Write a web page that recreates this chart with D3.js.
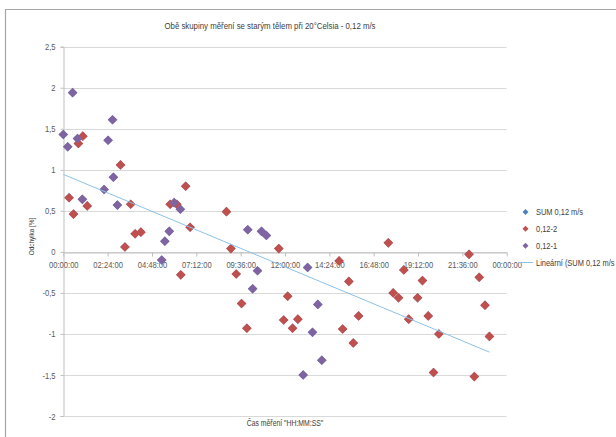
<!DOCTYPE html>
<html>
<head>
<meta charset="utf-8">
<script src="https://cdn.jsdelivr.net/npm/d3@7"></script>
<style>
  html, body { margin: 0; padding: 0; background: #ffffff; }
  svg { display: block; }
  text { font-family: "Liberation Sans", Arial, sans-serif; }
</style>
</head>
<body>
<div id="chart"></div>
<script>
// ---- data (x = time of day as fraction of 24 h, y = deviation in %) ----
const chartTitle = "Obě skupiny měření se starým tělem při 20°Celsia - 0,12 m/s";
const xTitle = "Čas měření \"HH:MM:SS\"";
const yTitle = "Odchylka [%]";
const seriesNames = ["SUM 0,12 m/s", "0,12-2", "0,12-1", "Lineární (SUM 0,12 m/s"];

const xTickValues = [0, 0.1, 0.2, 0.3, 0.4, 0.5, 0.6, 0.7, 0.8, 0.9, 1.0];
const xTickLabels = ["00:00:00", "02:24:00", "04:48:00", "07:12:00", "09:36:00", "12:00:00",
                     "14:24:00", "16:48:00", "19:12:00", "21:36:00", "00:00:00"];
const yTickValues = [-2, -1.5, -1, -0.5, 0, 0.5, 1, 1.5, 2, 2.5];
const yTickLabels = ["-2", "-1,5", "-1", "-0,5", "0", "0,5", "1", "1,5", "2", "2,5"];

// series 0,12-1 (purple)
const s1Time = [0.000, 0.010, 0.021, 0.032, 0.043, 0.092, 0.101, 0.111, 0.113, 0.122,
                0.222, 0.229, 0.239, 0.250, 0.264, 0.416, 0.427, 0.438, 0.447, 0.458,
                0.541, 0.551, 0.562, 0.574, 0.583];
const s1Value = [1.43, 1.28, 1.94, 1.38, 0.64, 0.76, 1.36, 1.61, 0.91, 0.57,
                 -0.10, 0.13, 0.25, 0.60, 0.52, 0.27, -0.45, -0.23, 0.25, 0.20,
                 -1.50, -0.19, -0.98, -0.64, -1.32];

// series 0,12-2 (red)
const s2Time = [0.013, 0.023, 0.034, 0.044, 0.054, 0.129, 0.139, 0.152, 0.162, 0.175,
                0.241, 0.256, 0.265, 0.276, 0.286, 0.368, 0.378, 0.390, 0.402, 0.414,
                0.486, 0.497, 0.506, 0.517, 0.529, 0.622, 0.630, 0.644, 0.654, 0.666,
                0.733, 0.744, 0.756, 0.768, 0.779, 0.799, 0.810, 0.823, 0.835, 0.847,
                0.915, 0.927, 0.938, 0.951, 0.961];
const s2Value = [0.66, 0.46, 1.32, 1.41, 0.56, 1.06, 0.06, 0.58, 0.22, 0.24,
                 0.58, 0.58, -0.28, 0.80, 0.30, 0.49, 0.04, -0.27, -0.63, -0.93,
                 0.04, -0.83, -0.54, -0.93, -0.82, -0.11, -0.94, -0.36, -1.11, -0.78,
                 0.11, -0.50, -0.56, -0.22, -0.82, -0.56, -0.35, -0.78, -1.47, -1.00,
                 -0.03, -1.52, -0.31, -0.65, -1.03];

const colors = { sum: "#4F81BD", s2: "#C0504D", s1: "#8064A2", trend: "#8CC2E6" };

// ---- layout ----
const W = 616, H = 437;
const plot = { left: 63.3, right: 506.7, top: 46.7, bottom: 416 };
const NARROW = 0.8; // horizontal compression to mimic a narrow (Calibri-like) face

const svg = d3.select("#chart").append("svg").attr("width", W).attr("height", H);

// helper: add a horizontally-compressed text
function label(parent, xx, yy, str, size, anchor, rotate) {
  return parent.append("text")
    .attr("transform", `translate(${xx},${yy})${rotate ? " rotate(" + rotate + ")" : ""} scale(${NARROW},1)`)
    .attr("text-anchor", anchor).attr("fill", "#404040")
    .style("font-size", size + "px").text(str);
}

// outer chart frame (top and left edges visible)
svg.append("path")
  .attr("d", `M5.5,${H} L5.5,9.5 L${W},9.5`)
  .attr("fill", "none").attr("stroke", "#a6a6a6").attr("stroke-width", 1.2);

const x = d3.scaleLinear().domain([0, 1]).range([plot.left, plot.right]);
const y = d3.scaleLinear().domain([-2, 2.5]).range([plot.bottom, plot.top]);

// horizontal gridlines
svg.append("g").selectAll("line").data(yTickValues).join("line")
  .attr("x1", plot.left).attr("x2", plot.right)
  .attr("y1", d => Math.round(y(d)) + 0.5).attr("y2", d => Math.round(y(d)) + 0.5)
  .attr("stroke", "#d9d9d9").attr("stroke-width", 1);

function compressTicks(g, size) {
  g.selectAll(".tick text").each(function () {
    const t = d3.select(this);
    const tx = +t.attr("x") || 0, ty = +t.attr("y") || 0;
    t.attr("x", null).attr("y", null)
      .attr("transform", `translate(${tx},${ty}) scale(${NARROW},1)`)
      .attr("fill", "#595959").style("font-size", size + "px")
      .style("font-family", "\"Liberation Sans\", Arial, sans-serif");
  });
}

// y axis
const yAxis = d3.axisLeft(y).tickValues(yTickValues)
  .tickFormat((d, i) => yTickLabels[i]).tickSize(3).tickPadding(5);
const yg = svg.append("g").attr("transform", `translate(${Math.round(plot.left) + 0.5},0)`).call(yAxis);
yg.select(".domain").attr("stroke", "#bfbfbf");
yg.selectAll(".tick line").attr("stroke", "#bfbfbf");
compressTicks(yg, 9.5);

// x axis at y = 0
const xAxis = d3.axisBottom(x).tickValues(xTickValues)
  .tickFormat((d, i) => xTickLabels[i]).tickSize(4).tickSizeOuter(0).tickPadding(5);
const xg = svg.append("g").attr("transform", `translate(0,${Math.round(y(0)) + 0.5})`).call(xAxis);
xg.select(".domain").attr("stroke", "#bfbfbf");
xg.selectAll(".tick line").attr("stroke", "#bfbfbf");
compressTicks(xg, 9.5);

// data points
const s1 = s1Time.map((t, i) => ({ t, v: s1Value[i] }));
const s2 = s2Time.map((t, i) => ({ t, v: s2Value[i] }));
const sum = s1.concat(s2);

const diamond = r => `M0,${-r}L${r},0L0,${r}L${-r},0Z`;

function drawSeries(data, color, r) {
  svg.append("g").selectAll("path").data(data).join("path")
    .attr("d", diamond(r))
    .attr("transform", d => `translate(${x(d.t)},${y(d.v)})`)
    .attr("fill", color);
}
drawSeries(sum, colors.sum, 4.6);
drawSeries(s2, colors.s2, 4.8);
drawSeries(s1, colors.s1, 4.8);

// linear trend of SUM series (least squares)
const mx = d3.mean(sum, d => d.t), my = d3.mean(sum, d => d.v);
const slope = d3.sum(sum, d => (d.t - mx) * (d.v - my)) / d3.sum(sum, d => (d.t - mx) ** 2);
const intercept = my - slope * mx;
const tExt = d3.extent(sum, d => d.t);
svg.append("line")
  .attr("x1", x(tExt[0])).attr("y1", y(intercept + slope * tExt[0]))
  .attr("x2", x(tExt[1])).attr("y2", y(intercept + slope * tExt[1]))
  .attr("stroke", colors.trend).attr("stroke-width", 1);

// title
label(svg, 270, 28.5, chartTitle, 9.8, "middle");

// axis titles
label(svg, 285, 425.5, xTitle, 8.6, "middle");
label(svg, 34, 236.5, yTitle, 8, "middle", -90);

// legend
const legendRows = [
  { name: seriesNames[0], color: colors.sum, type: "marker" },
  { name: seriesNames[1], color: colors.s2, type: "marker" },
  { name: seriesNames[2], color: colors.s1, type: "marker" },
  { name: seriesNames[3], color: colors.trend, type: "line" }
];
const lg = svg.append("g");
const rowY = d3.scalePoint().domain(d3.range(legendRows.length)).range([212, 262.5]);
legendRows.forEach((r, i) => {
  const yy = rowY(i);
  if (r.type === "marker") {
    lg.append("path").attr("d", diamond(3)).attr("transform", `translate(525.5,${yy})`).attr("fill", r.color);
  } else {
    lg.append("line").attr("x1", 518).attr("x2", 533).attr("y1", yy).attr("y2", yy)
      .attr("stroke", r.color).attr("stroke-width", 1);
  }
  label(lg, 536, yy + 3.3, r.name, 9.3, "start");
});
</script>
</body>
</html>
